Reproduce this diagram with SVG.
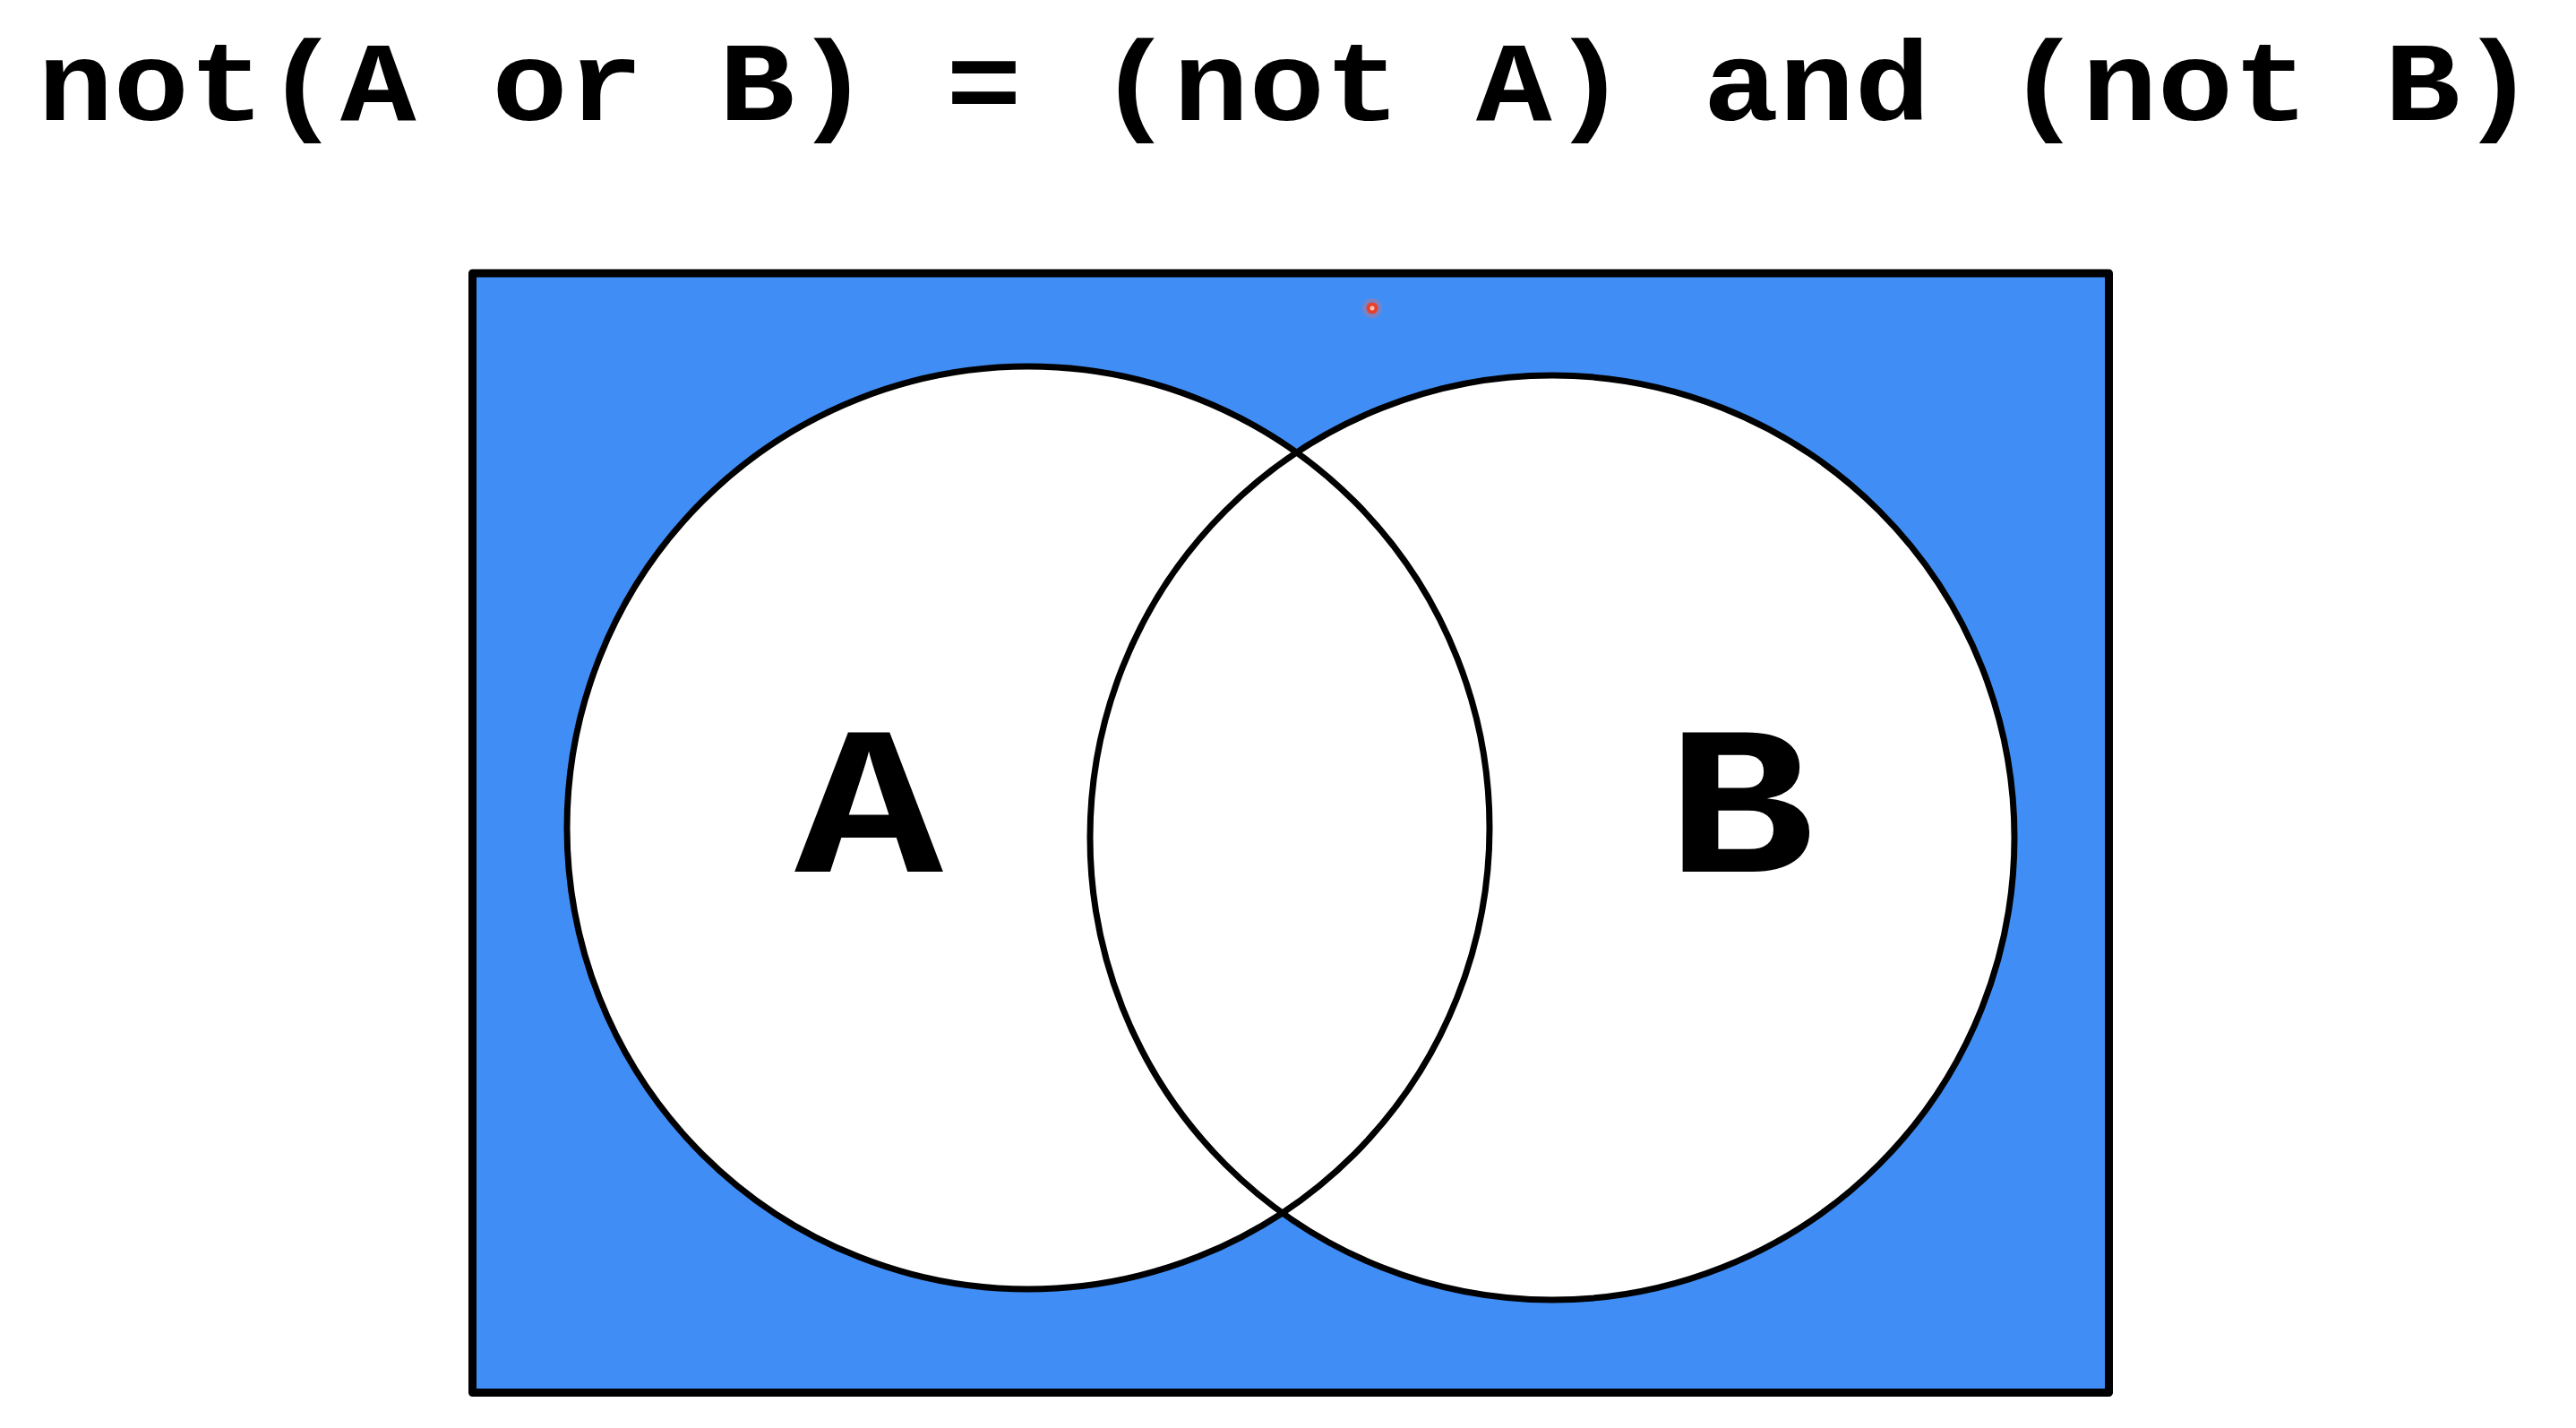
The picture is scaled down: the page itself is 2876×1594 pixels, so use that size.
<svg xmlns="http://www.w3.org/2000/svg" width="2876" height="1594" viewBox="0 0 2876 1594">
  <style>
    .title { font-family: "Liberation Mono", "Courier New", monospace; font-weight: bold; font-size: 126px; fill: #000; }
    .label { font-family: "Liberation Mono", "Courier New", monospace; font-weight: bold; font-size: 236px; fill: #000; text-anchor: middle; }
    .fill { fill: #ffffff; stroke: none; }
    .outline { fill: none; stroke: #000; stroke-width: 7; }
  </style>
  <rect width="2876" height="1594" fill="#ffffff"/>
  <text class="title" transform="translate(42,134) scale(1.118,1)" xml:space="preserve">not(A or B) = (not A) and (not B)</text>
  <g id="universe">
    <rect x="527.5" y="305" width="1827" height="1249.5" fill="#408ef5" stroke="#000" stroke-width="9" stroke-linejoin="round"/>
  </g>
  <g id="fills">
    <circle class="fill" cx="1148" cy="924" r="515"/>
    <circle class="fill" cx="1733" cy="935" r="516"/>
  </g>
  <g id="setA">
    <circle class="outline" cx="1148" cy="924" r="515"/>
    <text class="label" transform="translate(970,973) scale(1.17,1)">A</text>
  </g>
  <g id="setB">
    <circle class="outline" cx="1733" cy="935" r="516"/>
    <text class="label" transform="translate(1943,973) scale(1.17,1)">B</text>
  </g>
  <g id="pointer">
    <circle cx="1532" cy="344" r="11" fill="#ff6a50" opacity="0.3"/>
    <circle cx="1532" cy="344" r="6.5" fill="#e8402c"/>
    <circle cx="1532" cy="344" r="2.5" fill="#f7c0b0"/>
  </g>
  <g id="connectors"></g>
</svg>
